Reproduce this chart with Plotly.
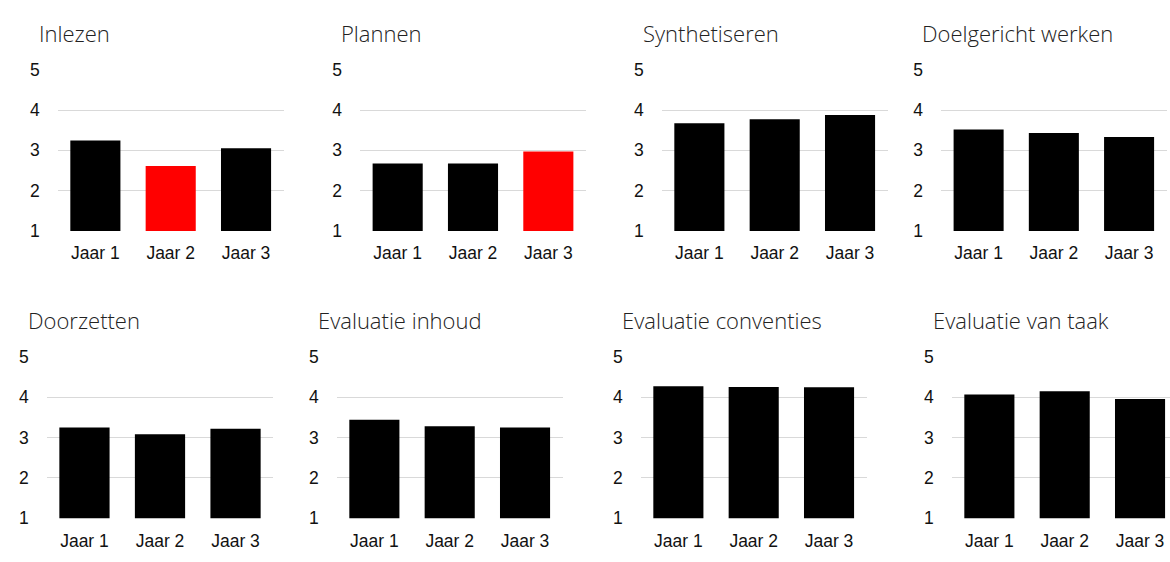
import plotly.graph_objects as go

categories = ["Jaar 1", "Jaar 2", "Jaar 3"]
titles = ["Inlezen", "Plannen", "Synthetiseren", "Doelgericht werken",
          "Doorzetten", "Evaluatie inhoud", "Evaluatie conventies", "Evaluatie van taak"]

inlezen = [3.24, 2.61, 3.05]
plannen = [2.67, 2.67, 2.97]
synthetiseren = [3.67, 3.77, 3.88]
doelgericht_werken = [3.52, 3.43, 3.33]
doorzetten = [3.25, 3.08, 3.22]
evaluatie_inhoud = [3.44, 3.28, 3.25]
evaluatie_conventies = [4.28, 4.26, 4.25]
evaluatie_van_taak = [4.07, 4.15, 3.96]

series = [inlezen, plannen, synthetiseren, doelgericht_werken,
          doorzetten, evaluatie_inhoud, evaluatie_conventies, evaluatie_van_taak]

# highlighted (red) bar index per panel, None if no highlight
highlight = [1, 2, None, None, None, None, None, None]

W, H = 1170, 562
# panel pixel boxes: (left, right, top, bottom)
boxes = [
    (57.7, 283.7, 62.7, 229.7),
    (360.0, 586.0, 62.7, 229.7),
    (661.7, 887.7, 62.7, 229.7),
    (941.0, 1166.7, 62.7, 229.7),
    (46.7, 273.3, 360.0, 527.0),
    (336.7, 562.7, 360.0, 527.0),
    (640.7, 866.7, 360.0, 527.0),
    (951.7, 1177.7, 360.0, 527.0),
]
title_pos = [
    (36.7, 24.5), (339.0, 24.5), (640.7, 24.5), (920.0, 24.5),
    (26.0, 321.7), (316.0, 321.7), (620.0, 321.7), (930.7, 321.7),
]

fig = go.Figure()
layout = dict(
    width=W, height=H,
    margin=dict(l=0, r=0, t=0, b=0),
    paper_bgcolor="white", plot_bgcolor="white",
    showlegend=False,
    bargap=0.335,
    annotations=[],
)

tick_font = dict(family="Liberation Sans, Arial, sans-serif", size=17.5, color="#111111")

for i, (vals, title) in enumerate(zip(series, titles)):
    n = i + 1
    xa = "x" if n == 1 else f"x{n}"
    ya = "y" if n == 1 else f"y{n}"
    colors = ["#000000"] * len(vals)
    if highlight[i] is not None:
        colors[highlight[i]] = "#ff0000"
    fig.add_trace(go.Bar(
        x=categories, y=vals, xaxis=xa, yaxis=ya,
        marker=dict(color=colors, line=dict(width=0)),
        hoverinfo="skip",
    ))
    left, right, top, bottom = boxes[i]
    cat_w = (right - left) / 3.0
    right_c = min(right, W)
    xr = [-0.5, -0.5 + (right_c - left) / cat_w]
    layout[f"xaxis{'' if n == 1 else n}"] = dict(
        domain=[left / W, right_c / W],
        anchor=ya,
        type="category",
        range=xr,
        showgrid=False, zeroline=False, showline=False,
        ticks="", tickfont=tick_font,
        ticklabelstandoff=10,
    )
    layout[f"yaxis{'' if n == 1 else n}"] = dict(
        domain=[1 - bottom / H, 1 - top / H],
        anchor=xa,
        range=[0.99, 5.01],
        tickvals=[1, 2, 3, 4, 5],
        showgrid=True, gridcolor="#d9d9d9", gridwidth=1,
        zeroline=False, showline=False,
        ticks="", tickfont=tick_font,
        ticklabelstandoff=17,
    )
    tx, ty = title_pos[i]
    layout["annotations"].append(dict(
        text=title, xref="paper", yref="paper",
        x=tx / W, y=1 - ty / H, xanchor="left", yanchor="middle",
        showarrow=False,
        font=dict(family="Open Sans, sans-serif", size=22, color="#222222", weight=300),
    ))

fig.update_layout(**layout)
fig.write_html(
    "out.html",
    config={"displayModeBar": False},
    post_script=(
        "document.body.style.margin='0';"
        "document.body.style.overflow='hidden';"
        "document.documentElement.style.overflow='hidden';"
    ),
)
